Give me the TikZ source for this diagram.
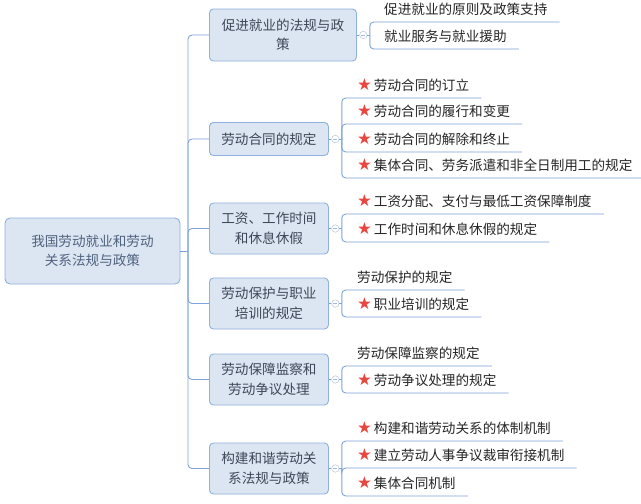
\documentclass[tikz,border=0pt]{standalone}
\usepackage{fontspec}
\setmainfont{Noto Sans CJK SC}
\newfontfamily\symfont{DejaVu Sans}
\usetikzlibrary{positioning}
\definecolor{boxfill}{HTML}{DCE6F2}
\definecolor{boxline}{HTML}{8EB1E0}
\definecolor{link}{HTML}{7DA3DA}
\definecolor{fgroot}{HTML}{50627F}
\definecolor{fgtopic}{HTML}{3E4758}
\definecolor{fgleaf}{HTML}{262626}
\definecolor{starred}{HTML}{E8463E}
\definecolor{foldline}{HTML}{A6BCDC}
\newcommand{\hotmark}{{\symfont\fontsize{16.5}{16.5}\selectfont\color{starred}★}\hspace{2pt}}

\begin{document}
\begin{tikzpicture}[
  x=1pt, y=-1pt,
  every node/.append style={font=\fontsize{13.6}{19.5}\selectfont},
  root/.style={draw=boxline, line width=0.9pt, fill=boxfill, rounded corners=5pt, align=center, text=fgroot, minimum width=175pt, minimum height=66pt},
  topic/.style={draw=boxline, line width=0.9pt, fill=boxfill, rounded corners=4pt, align=center, text=fgtopic, anchor=west, minimum width=119pt, minimum height=51pt},
  fold/.style={circle, draw=foldline, fill=white, minimum size=7.5pt, inner sep=0pt,
    path picture={\draw[foldline] ([xshift=-2pt]path picture bounding box.center) -- ([xshift=2pt]path picture bounding box.center);}},
  leaf/.style={anchor=south west, text=fgleaf, inner xsep=12pt, inner ysep=5.5pt, text height=10pt, text depth=2pt},
  edge/.style={draw=link, line width=0.9pt, rounded corners=4pt},
]
\fill[white] (0,0) rectangle (641,504);
\useasboundingbox (0,0) rectangle (641,504);

% Root
\node[root] (root) at (92.5,251) {我国劳动就业和劳动\\关系法规与政策};
\coordinate (hub) at (188,251);

% Topics
\node[topic, minimum width=147pt, minimum height=52pt] (t1) at (209,35) {促进就业的法规与政\\策};
\node[topic, minimum height=33pt] (t2) at (209,139) {劳动合同的规定};
\node[topic] (t3) at (209,228.5) {工资、工作时间\\和休息休假};
\node[topic] (t4) at (209,303.5) {劳动保护与职业\\培训的规定};
\node[topic] (t5) at (209,379.5) {劳动保障监察和\\劳动争议处理};
\node[topic] (t6) at (209,468.5) {构建和谐劳动关\\系法规与政策};

\draw[edge] (root.east) -- (hub);
\foreach \i in {1,...,6}{
  \draw[edge] (hub) |- (t\i.west);
  \node[fold, right=2.5pt of t\i] (c\i) {};
  \coordinate[right=2.5pt of c\i] (j\i);
  \draw[edge] (t\i.east) -- (c\i.west);
  \draw[edge] (c\i.east) -- (j\i);
}

% Leaves
\node[leaf] (l11) at (372,22) {促进就业的原则及政策支持};
\node[leaf] (l12) at (372,49) {就业服务与就业援助};

\node[leaf] (l21) at (345,98) {\hotmark 劳动合同的订立};
\node[leaf] (l22) at (345,124) {\hotmark 劳动合同的履行和变更};
\node[leaf] (l23) at (345,152) {\hotmark 劳动合同的解除和终止};
\node[leaf] (l24) at (345,178) {\hotmark 集体合同、劳务派遣和非全日制用工的规定};

\node[leaf] (l31) at (345,214) {\hotmark 工资分配、支付与最低工资保障制度};
\node[leaf] (l32) at (345,242) {\hotmark 工作时间和休息休假的规定};

\node[leaf] (l41) at (345,290) {劳动保护的规定};
\node[leaf] (l42) at (345,317) {\hotmark 职业培训的规定};

\node[leaf] (l51) at (345,366) {劳动保障监察的规定};
\node[leaf] (l52) at (345,393) {\hotmark 劳动争议处理的规定};

\node[leaf] (l61) at (345,441) {\hotmark 构建和谐劳动关系的体制机制};
\node[leaf] (l62) at (345,468) {\hotmark 建立劳动人事争议裁审衔接机制};
\node[leaf] (l63) at (345,496) {\hotmark 集体合同机制};

\foreach \g/\k in {1/1,1/2,2/1,2/2,2/3,2/4,3/1,3/2,4/1,4/2,5/1,5/2,6/1,6/2,6/3}{
  \draw[edge] (j\g) |- (l\g\k.south east);
}

\end{tikzpicture}
\end{document}
